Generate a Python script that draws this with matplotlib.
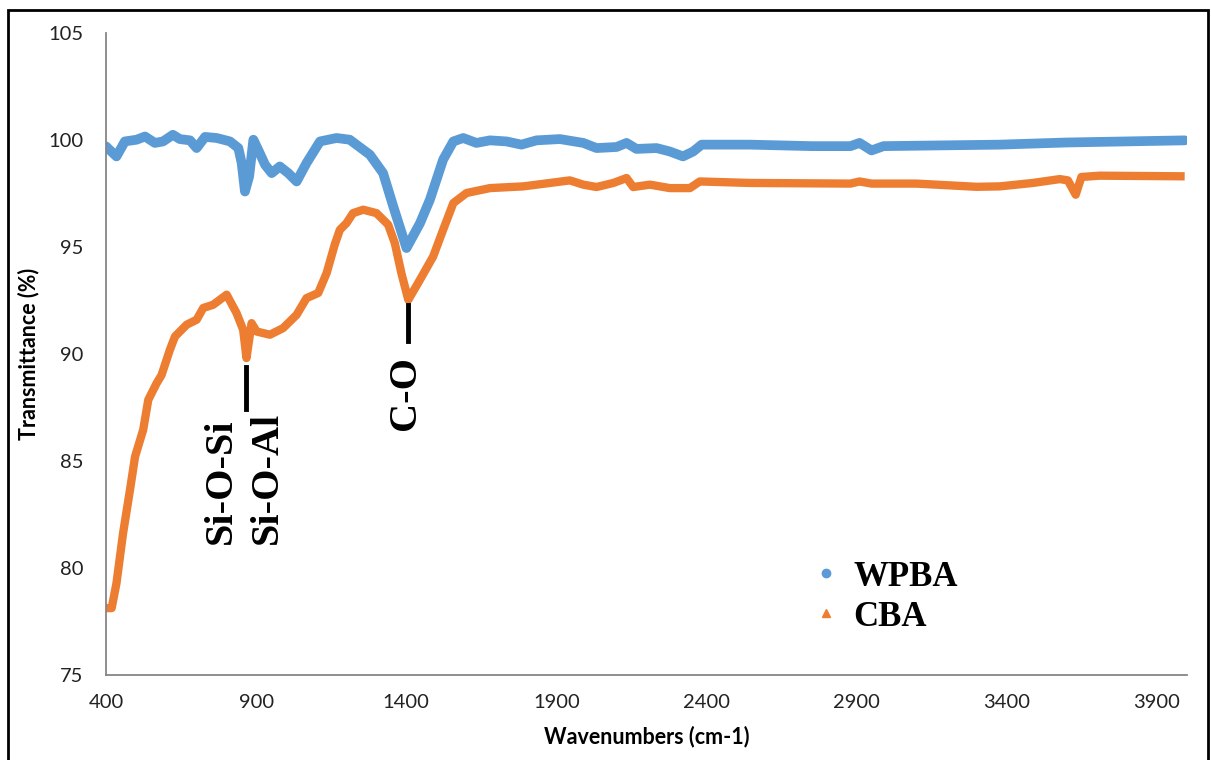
import matplotlib
matplotlib.use("Agg")
import matplotlib.pyplot as plt
from matplotlib.lines import Line2D
from matplotlib.patches import Rectangle

# WPBA spectrum
wpba_x = [400, 435, 463, 502, 530, 563, 590, 623, 646, 680, 702, 730, 769, 813, 841, 852, 863,
          877, 891, 907, 930, 952, 979, 1007, 1035, 1068, 1113, 1168, 1212, 1279, 1323, 1357, 1401,
          1446, 1479, 1523, 1557, 1590, 1634, 1679, 1734, 1784, 1834, 1912, 1990, 2034, 2101, 2134,
          2167, 2234, 2278, 2322, 2356, 2384, 2545, 2750, 2880, 2910, 2950, 2990, 3100, 3377, 3600, 3993]
wpba_y = [99.69, 99.22, 99.92, 100.0, 100.15, 99.85, 99.92, 100.23, 100.03, 99.97, 99.61, 100.13,
          100.08, 99.92, 99.61, 98.91, 97.58, 98.29, 100.0, 99.53, 98.83, 98.44, 98.75, 98.44, 98.05,
          98.91, 99.92, 100.08, 100.0, 99.3, 98.44, 96.88, 94.94, 96.1, 97.2, 99.07, 99.92, 100.08,
          99.85, 99.97, 99.92, 99.77, 99.97, 100.03, 99.85, 99.61, 99.66, 99.85, 99.57, 99.61, 99.45,
          99.22, 99.45, 99.77, 99.77, 99.7, 99.7, 99.85, 99.5, 99.7, 99.72, 99.77, 99.87, 99.97]

# CBA spectrum
cba_x = [400, 419, 435, 457, 480, 497, 524, 541, 569, 585, 613, 630, 669, 702, 724, 757, 802, 835,
         857, 868, 885, 902, 946, 990, 1035, 1068, 1107, 1135, 1162, 1179, 1201, 1223, 1257, 1301,
         1340, 1362, 1384, 1407, 1446, 1490, 1523, 1557, 1601, 1679, 1790, 1879, 1945, 1990, 2034,
         2090, 2134, 2156, 2212, 2278, 2345, 2378, 2545, 2880, 2910, 2950, 3100, 3300, 3377, 3487,
         3577, 3604, 3630, 3649, 3710, 3993]
cba_y = [78.12, 78.12, 79.28, 81.62, 83.64, 85.2, 86.45, 87.85, 88.63, 89.0, 90.19, 90.81, 91.36,
         91.59, 92.14, 92.29, 92.76, 91.9, 91.12, 89.8, 91.43, 91.04, 90.89, 91.2, 91.82, 92.6, 92.84,
         93.77, 95.1, 95.79, 96.1, 96.57, 96.73, 96.57, 96.03, 95.17, 93.77, 92.52, 93.46, 94.55,
         95.79, 97.04, 97.51, 97.74, 97.82, 97.98, 98.1, 97.9, 97.79, 97.98, 98.21, 97.79, 97.9,
         97.74, 97.74, 98.05, 97.98, 97.95, 98.05, 97.95, 97.95, 97.8, 97.82, 97.98, 98.16, 98.1,
         97.43, 98.26, 98.32, 98.29]

xticks = [400, 900, 1400, 1900, 2400, 2900, 3400, 3900]
yticks = [75, 80, 85, 90, 95, 100, 105]

blue = '#5B9BD5'
orange = '#ED7D31'
serif = 'Liberation Serif'
sans = 'Lato'

fig = plt.figure(figsize=(12.11, 7.6), dpi=100)
ax = fig.add_axes([0.0875, 0.112, 0.8925, 0.845])

ax.plot(wpba_x, wpba_y, color=blue, lw=7, solid_capstyle='round', solid_joinstyle='round')
ax.plot(cba_x, cba_y, color=orange, lw=6, solid_capstyle='butt', solid_joinstyle='round')

ax.set_xlim(400, 4000)
ax.set_ylim(75, 105)
ax.set_xticks(xticks)
ax.set_yticks(yticks)
ax.tick_params(length=0, labelsize=14.5, labelcolor='#222222')
ax.tick_params(axis='x', pad=14)
ax.tick_params(axis='y', pad=16)
for lab in ax.get_xticklabels() + ax.get_yticklabels():
    lab.set_family(sans)

for s in ['top', 'right']:
    ax.spines[s].set_visible(False)
for s in ['left', 'bottom']:
    ax.spines[s].set_color('#868686')
    ax.spines[s].set_linewidth(1.3)

ax.set_xlabel('Wavenumbers (cm-1)', fontsize=15.5, fontweight='bold', family=sans, labelpad=10)
ax.set_ylabel('Transmittance (%)', fontsize=15.5, fontweight='bold', family=sans)
ax.yaxis.set_label_coords(-0.062, 0.5)

# peak markers and labels
ax.plot([866, 866], [87.4, 89.4], color='black', lw=3.5)
ax.plot([1406, 1406], [90.6, 92.3], color='black', lw=3.5)
ax.text(786, 81.1, 'Si-O-Si', rotation=90, ha='center', va='bottom', fontsize=29,
        fontweight='bold', family=serif)
ax.text(939, 81.1, 'Si-O-Al', rotation=90, ha='center', va='bottom', fontsize=29,
        fontweight='bold', family=serif)
ax.text(1398, 86.45, 'C-O', rotation=90, ha='center', va='bottom', fontsize=29,
        fontweight='bold', family=serif)

handles = [Line2D([], [], ls='', marker='o', ms=6, color=blue, label='WPBA'),
           Line2D([], [], ls='', marker='^', ms=6, color=orange, label='CBA')]
ax.legend(handles=handles, loc='upper left', bbox_to_anchor=(0.65, 0.178), frameon=False,
          prop={'family': serif, 'weight': 'bold', 'size': 25}, handlelength=1.0,
          handletextpad=0.3, labelspacing=0.2, borderpad=0, borderaxespad=0)

# outer frame of the figure panel
fig.patches.append(Rectangle((8 / 1211, -0.05), 1200 / 1211, 1.05 - 10 / 760,
                             transform=fig.transFigure, fill=False, ec='black', lw=2))

fig.savefig('out.png', dpi=100)
